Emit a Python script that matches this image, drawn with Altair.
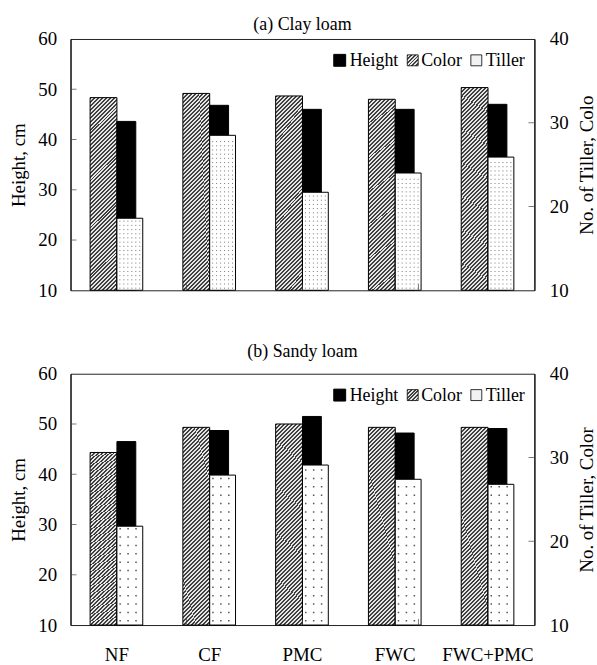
import altair as alt
import pandas as pd

# ---------------- data ----------------
cats = ["NF", "CF", "PMC", "FWC", "FWC+PMC"]
clay_height = [43.6, 46.8, 46.0, 46.0, 47.0]
clay_color = [33.0, 33.5, 33.2, 32.8, 34.2]
clay_tiller = [18.6, 28.5, 21.7, 24.0, 25.9]
sandy_height = [46.5, 48.7, 51.5, 48.2, 49.1]
sandy_color = [30.6, 33.6, 34.0, 33.6, 33.6]
sandy_tiller = [21.8, 27.9, 29.1, 27.4, 26.8]
left_ticks = [10, 20, 30, 40, 50, 60]
right_ticks = [10, 20, 30, 40]
legend_names = ["Height", "Color", "Tiller"]

FONT = "Liberation Serif"
W, H = 467, 253


def hatch(r, n, dark="#404040", light="#e6e6e6"):
    a = (1 + r) / (1 + r * r)
    b = r * a
    stops = []
    for k in range(n):
        stops += [
            {"offset": k / n, "color": dark},
            {"offset": (k + 0.5) / n, "color": dark},
            {"offset": (k + 0.5) / n, "color": light},
            {"offset": (k + 1) / n, "color": light},
        ]
    return {"gradient": "linear", "x1": 0, "y1": 0, "x2": a, "y2": b, "stops": stops}


BAR_HATCH = hatch(7.2, 56)
LEG_HATCH = hatch(1.0, 6)


def panel(height, color, tiller, title, right_title, show_x, dot_step, dot_dash, dot_color, dot_w, title_offset):
    df = pd.DataFrame({"cat": cats, "Height": height, "Color": color, "Tiller": tiller})
    base = alt.Chart(df)
    xsc = alt.Scale(paddingInner=0, paddingOuter=0)
    if show_x:
        xaxis = alt.Axis(title=None, labelAngle=0, ticks=False, domain=False,
                         labelPadding=21, labelFontSize=19)
    else:
        xaxis = None
    x = alt.X("cat:N", sort=cats, scale=xsc, axis=xaxis)
    x_noaxis = alt.X("cat:N", sort=cats, scale=xsc, axis=None)

    rsc = alt.Scale(domain=[10, 40], zero=False, nice=False)
    lsc = alt.Scale(domain=[10, 60], zero=False, nice=False)

    color_bars = base.mark_bar(width=27, xOffset=-13.5, fill=BAR_HATCH, stroke="black",
                               strokeWidth=1).encode(
        x=x, y=alt.Y("Color:Q", scale=rsc, axis=None), y2=alt.datum(10))

    height_bars = base.mark_bar(width=19, xOffset=9.5, fill="black", stroke="black",
                                strokeWidth=1).encode(
        x=x_noaxis,
        y=alt.Y("Height:Q", scale=lsc,
                axis=alt.Axis(orient="left", values=left_ticks, title="Height, cm",
                              ticks=False, grid=False, labelPadding=14, titlePadding=9,
                              labelFlush=False)),
        y2=alt.datum(10))

    tiller_bars = base.mark_bar(width=26, xOffset=13, fill="white", stroke="black",
                                strokeWidth=1).encode(
        x=x_noaxis,
        y=alt.Y("Tiller:Q", scale=rsc,
                axis=alt.Axis(orient="right", values=right_ticks, title=right_title,
                              ticks=False, grid=False, labelPadding=15, titlePadding=9,
                              titleAngle=270, titleBaseline="top", labelFlush=False)),
        y2=alt.datum(10))

    dots = base.transform_calculate(
        lv=f"sequence({10 + dot_step / 2}, datum.Tiller - 0.25, {dot_step})"
    ).transform_flatten(["lv"]).mark_rule(
        xOffset=2.5, x2Offset=25, strokeDash=dot_dash, color=dot_color, strokeWidth=dot_w
    ).encode(x=x_noaxis, x2=alt.X2("cat"), y=alt.Y("lv:Q", scale=rsc, axis=None))

    # inward ticks
    lt = pd.DataFrame({"v": left_ticks[1:-1]})
    rt = pd.DataFrame({"v": right_ticks[1:-1]})
    bt = pd.DataFrame({"cat": cats[:-1]})
    lticks = alt.Chart(lt).mark_tick(orient="horizontal", size=6, thickness=1, color="#444").encode(
        x=alt.value(3), y=alt.Y("v:Q", scale=lsc, axis=None))
    rticks = alt.Chart(rt).mark_tick(orient="horizontal", size=6, thickness=1, color="#444").encode(
        x=alt.value(W - 3), y=alt.Y("v:Q", scale=rsc, axis=None))
    bticks = alt.Chart(bt).mark_tick(orient="vertical", size=6, thickness=1, color="#444").encode(
        x=alt.X("cat:N", sort=cats, scale=xsc, axis=None, bandPosition=1), y=alt.value(H - 3))

    # legend
    ldf = pd.DataFrame({"name": legend_names})
    ly = 21.5
    leg_h = alt.Chart(ldf).transform_filter("datum.name == 'Height'").mark_rect(
        fill="black", stroke="black").encode(
        x=alt.value(265), x2=alt.value(277), y=alt.value(ly - 6), y2=alt.value(ly + 6))
    leg_c = alt.Chart(ldf).transform_filter("datum.name == 'Color'").mark_rect(
        fill=LEG_HATCH, stroke="black", strokeWidth=0.8).encode(
        x=alt.value(339), x2=alt.value(350), y=alt.value(ly - 5.5), y2=alt.value(ly + 5.5))
    leg_t = alt.Chart(ldf).transform_filter("datum.name == 'Tiller'").mark_rect(
        fill="#f2f2f2", stroke="black", strokeWidth=0.8).encode(
        x=alt.value(403), x2=alt.value(414), y=alt.value(ly - 5.5), y2=alt.value(ly + 5.5))

    def leg_text(name, xpos):
        return alt.Chart(ldf).transform_filter(f"datum.name == '{name}'").mark_text(
            align="left", baseline="middle", font=FONT, fontSize=18, color="black").encode(
            x=alt.value(xpos), y=alt.value(ly + 1), text="name:N")

    layer = alt.layer(
        color_bars, height_bars, tiller_bars, dots, lticks, rticks, bticks,
        leg_h, leg_c, leg_t,
        leg_text("Height", 281), leg_text("Color", 353), leg_text("Tiller", 418)
    ).resolve_scale(y="independent", x="independent").properties(
        width=W, height=H,
        title=alt.TitleParams(text=title, font=FONT, fontSize=18, fontWeight="normal",
                              color="black", offset=title_offset, frame="group",
                              anchor="middle"))
    return layer


pa = panel(clay_height, clay_color, clay_tiller, "(a) Clay loam", "No. of Tiller, Colo",
           False, 0.5, [1, 3], "#777777", 1, -4)
pb = panel(sandy_height, sandy_color, sandy_tiller, "(b) Sandy loam", "No. of Tiller, Color",
           True, 1.0, [1.5, 6.5], "#555555", 1.5, 4)

chart = alt.vconcat(pa, pb, spacing=41).properties(
    padding={"left": 9, "top": 13, "right": 0, "bottom": 0},
    background="white",
).configure_view(stroke="#222", strokeWidth=1).configure_axis(
    labelFont=FONT, labelFontSize=19, labelColor="black",
    titleFont=FONT, titleFontSize=19, titleFontWeight="normal", titleColor="black",
    domainColor="black",
)

chart.save("out.html", embed_options={"renderer": "svg", "actions": False})
